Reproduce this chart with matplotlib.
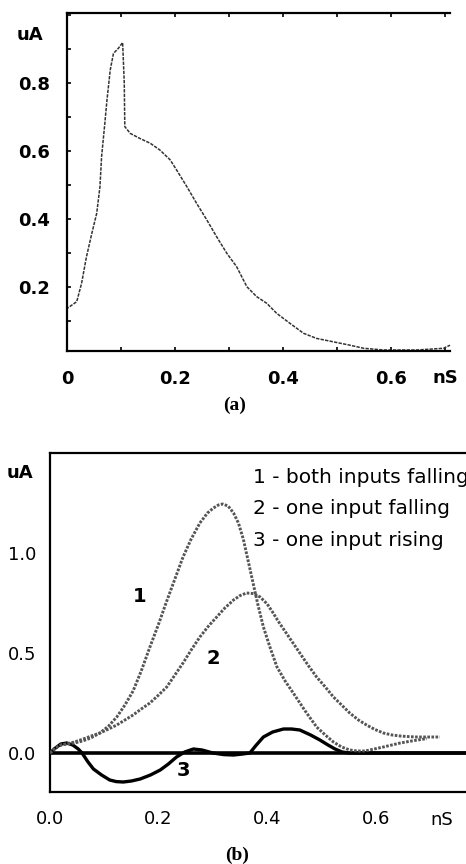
import numpy as np
import matplotlib
matplotlib.use("Agg")
import matplotlib.pyplot as plt
from matplotlib.ticker import MultipleLocator

W, H = 466, 864

# panel (a): current pulse
a_t = [0.0, 0.0, 0.018, 0.027, 0.036, 0.046, 0.055, 0.061, 0.064, 0.070, 0.074, 0.080, 0.086,
       0.095, 0.103, 0.106, 0.107, 0.117, 0.135, 0.154, 0.172, 0.191, 0.203, 0.222, 0.240,
       0.259, 0.277, 0.296, 0.314, 0.333, 0.351, 0.370, 0.388, 0.413, 0.438, 0.462, 0.493,
       0.524, 0.549, 0.586, 0.648, 0.697, 0.709]
a_i = [0.012, 0.137, 0.157, 0.211, 0.289, 0.358, 0.417, 0.495, 0.583, 0.681, 0.750, 0.838, 0.887,
       0.902, 0.919, 0.799, 0.672, 0.652, 0.637, 0.623, 0.603, 0.574, 0.544, 0.495, 0.446,
       0.397, 0.348, 0.299, 0.260, 0.201, 0.172, 0.152, 0.123, 0.093, 0.064, 0.049, 0.039,
       0.029, 0.020, 0.015, 0.015, 0.020, 0.029]

# panel (b): three cases
b1_t = [0.0, 0.010, 0.020, 0.030, 0.045, 0.060, 0.075, 0.092, 0.108, 0.123, 0.138, 0.153,
        0.168, 0.184, 0.200, 0.215, 0.230, 0.245, 0.260, 0.276, 0.290, 0.301, 0.310, 0.318,
        0.328, 0.338, 0.347, 0.356, 0.365, 0.374, 0.383, 0.393, 0.405, 0.418, 0.433, 0.448,
        0.470, 0.491, 0.507, 0.522, 0.537, 0.552, 0.566, 0.580, 0.597, 0.614, 0.645, 0.670,
        0.694]
b1_i = [0.0, 0.025, 0.040, 0.045, 0.050, 0.060, 0.075, 0.100, 0.135, 0.180, 0.240, 0.310,
        0.410, 0.530, 0.645, 0.760, 0.870, 0.980, 1.070, 1.150, 1.200, 1.225, 1.240, 1.245,
        1.235, 1.200, 1.150, 1.070, 0.960, 0.850, 0.740, 0.630, 0.530, 0.430, 0.360, 0.300,
        0.210, 0.130, 0.090, 0.055, 0.030, 0.015, 0.010, 0.010, 0.020, 0.030, 0.050, 0.062,
        0.072]
b2_t = [0.0, 0.010, 0.020, 0.030, 0.045, 0.061, 0.076, 0.092, 0.108, 0.123, 0.138, 0.153,
        0.168, 0.184, 0.200, 0.215, 0.230, 0.245, 0.260, 0.276, 0.292, 0.307, 0.322, 0.338,
        0.350, 0.362, 0.375, 0.387, 0.400, 0.411, 0.420, 0.430, 0.445, 0.460, 0.475, 0.491,
        0.507, 0.522, 0.537, 0.552, 0.568, 0.583, 0.598, 0.614, 0.630, 0.645, 0.660, 0.675,
        0.718]
b2_i = [0.0, 0.025, 0.040, 0.045, 0.055, 0.070, 0.085, 0.100, 0.120, 0.140, 0.165, 0.190,
        0.220, 0.250, 0.290, 0.330, 0.390, 0.450, 0.515, 0.580, 0.635, 0.680, 0.725, 0.765,
        0.787, 0.800, 0.797, 0.780, 0.745, 0.700, 0.660, 0.620, 0.560, 0.500, 0.440, 0.380,
        0.330, 0.280, 0.240, 0.200, 0.165, 0.140, 0.118, 0.100, 0.090, 0.085, 0.082, 0.080,
        0.080]
b3_t = [0.0, 0.010, 0.020, 0.031, 0.042, 0.052, 0.059, 0.070, 0.080, 0.095, 0.110, 0.122,
        0.135, 0.150, 0.166, 0.185, 0.203, 0.218, 0.233, 0.248, 0.264, 0.280, 0.300, 0.320,
        0.338, 0.355, 0.368, 0.380, 0.393, 0.410, 0.430, 0.445, 0.460, 0.480, 0.497, 0.512,
        0.525, 0.538, 0.550, 0.780]
b3_i = [0.0, 0.025, 0.045, 0.050, 0.040, 0.020, 0.0, -0.045, -0.080, -0.110, -0.135, -0.143,
        -0.145, -0.140, -0.130, -0.110, -0.085, -0.055, -0.020, 0.005, 0.020, 0.015, 0.0, -0.008,
        -0.010, -0.005, 0.0, 0.040, 0.080, 0.105, 0.120, 0.120, 0.115, 0.090, 0.065, 0.040,
        0.020, 0.005, 0.0, 0.0]

labels_b = ["1 - both inputs falling", "2 - one input falling", "3 - one input rising"]


def box(l, t, r, b):
    return [l / W, 1 - b / H, (r - l) / W, (b - t) / H]


def ftext(x, y, s, **kw):
    fig.text(x / W, 1 - y / H, s, ha="center", va="center", **kw)


fig = plt.figure(figsize=(W / 100, H / 100), dpi=100)
fig.patch.set_facecolor("white")

# ---- (a)
ax = fig.add_axes(box(67, 13, 450, 351))
ax.plot(a_t, a_i, color="#333333", lw=1.1, ls=(0, (2.2, 0.8)), clip_on=False)
ax.set_xlim(0, 0.709)
ax.set_ylim(0.012, 1.006)
ax.spines["right"].set_visible(False)
for s in ["left", "top", "bottom"]:
    ax.spines[s].set_linewidth(1.6)
ax.xaxis.set_minor_locator(MultipleLocator(0.1))
ax.yaxis.set_minor_locator(MultipleLocator(0.1))
ax.set_xticks([0, 0.2, 0.4, 0.6])
ax.set_xticklabels(["0", "0.2", "0.4", "0.6"])
ax.set_yticks([0.2, 0.4, 0.6, 0.8])
ax.set_yticklabels(["0.2", "0.4", "0.6", "0.8"])
ax.tick_params(which="both", direction="in", length=3, width=1.2, top=True,
               labelsize=13, pad=12)
ax.tick_params(axis="x", which="both", pad=14)
for lab in ax.get_xticklabels() + ax.get_yticklabels():
    lab.set_fontweight("bold")
ftext(30, 35, "uA", fontsize=13, fontweight="bold")
ftext(445, 378, "nS", fontsize=13, fontweight="bold")
ftext(235, 405, "(a)", fontsize=14, fontweight="bold", family="Liberation Serif")

# ---- (b)
bx = fig.add_axes(box(50, 453, 50 + 0.78 * 543, 792))
bx.axhline(0, color="black", lw=2.6, zorder=1)
bx.plot(b1_t, b1_i, color="#555555", lw=2.1, ls=(0, (0.9, 0.5)), zorder=3)
bx.plot(b2_t, b2_i, color="#555555", lw=2.1, ls=(0, (0.9, 0.5)), zorder=3)
bx.plot(b3_t, b3_i, color="black", lw=2.4, zorder=2)
bx.set_xlim(0, 0.78)
bx.set_ylim(-0.195, 1.5)
for s in bx.spines.values():
    s.set_linewidth(1.6)
bx.set_xticks([0.0, 0.2, 0.4, 0.6])
bx.set_xticklabels(["0.0", "0.2", "0.4", "0.6"])
bx.set_yticks([0.0, 0.5, 1.0])
bx.set_yticklabels(["0.0", "0.5", "1.0"])
bx.tick_params(length=0, labelsize=13)
bx.tick_params(axis="x", pad=13)
bx.tick_params(axis="y", pad=10)
bx.text(0.165, 0.78, "1", fontsize=14, fontweight="bold", ha="center", va="center")
bx.text(0.30, 0.47, "2", fontsize=14, fontweight="bold", ha="center", va="center")
bx.text(0.245, -0.085, "3", fontsize=14, fontweight="bold", ha="center", va="center")
for k, s in enumerate(labels_b):
    fig.text(253 / W, 1 - (477 + 31.5 * k) / H, s, fontsize=14.5, ha="left", va="center")
ftext(20, 473, "uA", fontsize=13, fontweight="bold")
ftext(442, 820, "nS", fontsize=13)
ftext(237, 855, "(b)", fontsize=14, fontweight="bold", family="Liberation Serif")

fig.savefig("out.png", dpi=100)
